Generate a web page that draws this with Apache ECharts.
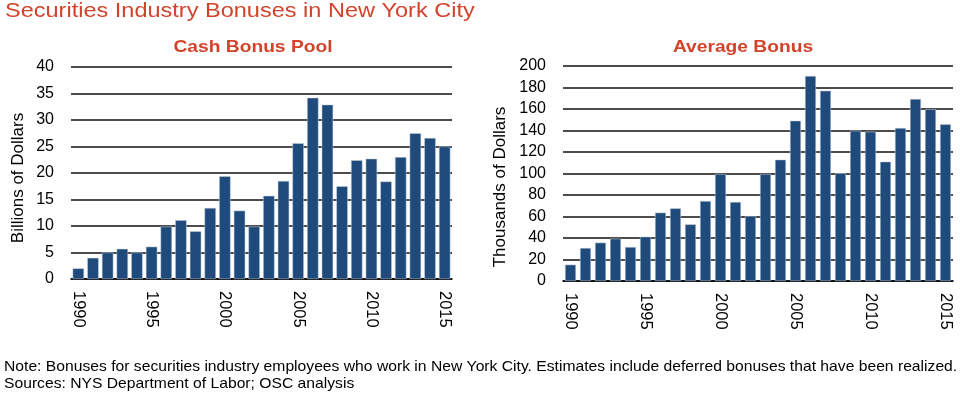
<!DOCTYPE html>
<html><head><meta charset="utf-8">
<script src="https://cdn.jsdelivr.net/npm/echarts@6/dist/echarts.min.js"></script>
<style>html,body{margin:0;padding:0;background:#fff}#c{width:960px;height:394px}</style>
</head><body><div id="c"></div>
<script>
const years = ['1990','1991','1992','1993','1994','1995','1996','1997','1998','1999','2000','2001','2002','2003','2004','2005','2006','2007','2008','2009','2010','2011','2012','2013','2014','2015'];
const cashPool = [2.0,4.0,5.0,5.7,5.0,6.1,9.9,11.1,9.0,13.4,19.4,12.9,9.9,15.7,18.5,25.6,34.2,32.9,17.5,22.4,22.7,18.4,23.0,27.5,26.6,25.0];
const avgBonus = [15.2,30.7,35.7,39.4,31.6,41.2,63.6,67.6,52.7,74.4,99.5,73.5,60.5,99.5,112.9,149.1,190.7,177.0,100.2,139.8,138.9,111.0,142.3,169.3,159.7,145.7];
const mainTitle = 'Securities Industry Bonuses in New York City';
const leftTitle = 'Cash Bonus Pool';
const rightTitle = 'Average Bonus';
const leftAxisName = 'Billions of Dollars';
const rightAxisName = 'Thousands of Dollars';
const noteText = 'Note: Bonuses for securities industry employees who work in New York City. Estimates include deferred bonuses that have been realized.';
const sourceText = 'Sources: NYS Department of Labor; OSC analysis';

const FONT = 'Liberation Sans, Arial, sans-serif';
const BAR = '#1f4a7c';
const RED = '#d2432c';

function xAxis(idx){
  return {
    type:'category', gridIndex:idx, data:years, boundaryGap:true,
    axisLine:{show:true,lineStyle:{color:'#000',width:1.5}},
    axisTick:{show:false},
    axisLabel:{interval:4,rotate:-90,margin:12,fontSize:16.5,color:'#000',fontFamily:FONT}
  };
}
function yAxis(idx,max,interval){
  return {
    type:'value', gridIndex:idx, min:0, max:max, interval:interval,
    axisLine:{show:false}, axisTick:{show:false},
    splitLine:{show:true,lineStyle:{color:'#111',width:1.5}},
    axisLabel:{margin:17,fontSize:16,color:'#000',fontFamily:FONT}
  };
}
const chart = echarts.init(document.getElementById('c'),null,{renderer:'canvas'});
chart.setOption({
  animation:false,
  backgroundColor:'#fff',
  grid:[
    {left:71,right:508,top:67,bottom:115,containLabel:false,outerBoundsMode:'none'},
    {left:563,right:7,top:66,bottom:113,containLabel:false,outerBoundsMode:'none'}
  ],
  xAxis:[xAxis(0),xAxis(1)],
  yAxis:[yAxis(0,40,5),yAxis(1,200,20)],
  series:[
    {type:'bar',xAxisIndex:0,yAxisIndex:0,data:cashPool,barCategoryGap:'22%',itemStyle:{color:BAR,borderColor:'#c9d3df',borderWidth:0.5}},
    {type:'bar',xAxisIndex:1,yAxisIndex:1,data:avgBonus,barCategoryGap:'27%',itemStyle:{color:BAR,borderColor:'#c9d3df',borderWidth:0.5}}
  ],
  graphic:[
    {type:'text',x:5,y:1,scaleX:1.12,style:{text:mainTitle,fill:RED,font:'21px '+FONT}},
    {type:'text',x:253,y:39,scaleX:1.13,style:{text:leftTitle,fill:RED,font:'bold 17px '+FONT,textAlign:'center'}},
    {type:'text',x:743,y:39,scaleX:1.13,style:{text:rightTitle,fill:RED,font:'bold 17px '+FONT,textAlign:'center'}},
    {type:'text',x:18,y:178,rotation:Math.PI/2,style:{text:leftAxisName,fill:'#000',font:'17px '+FONT,textAlign:'center',textVerticalAlign:'middle'}},
    {type:'text',x:500,y:187,rotation:Math.PI/2,style:{text:rightAxisName,fill:'#000',font:'17px '+FONT,textAlign:'center',textVerticalAlign:'middle'}},
    {type:'text',x:4,y:359,scaleX:1.045,style:{text:noteText,fill:'#000',font:'15px '+FONT}},
    {type:'text',x:4,y:376,scaleX:1.045,style:{text:sourceText,fill:'#000',font:'15px '+FONT}}
  ]
});
</script></body></html>
